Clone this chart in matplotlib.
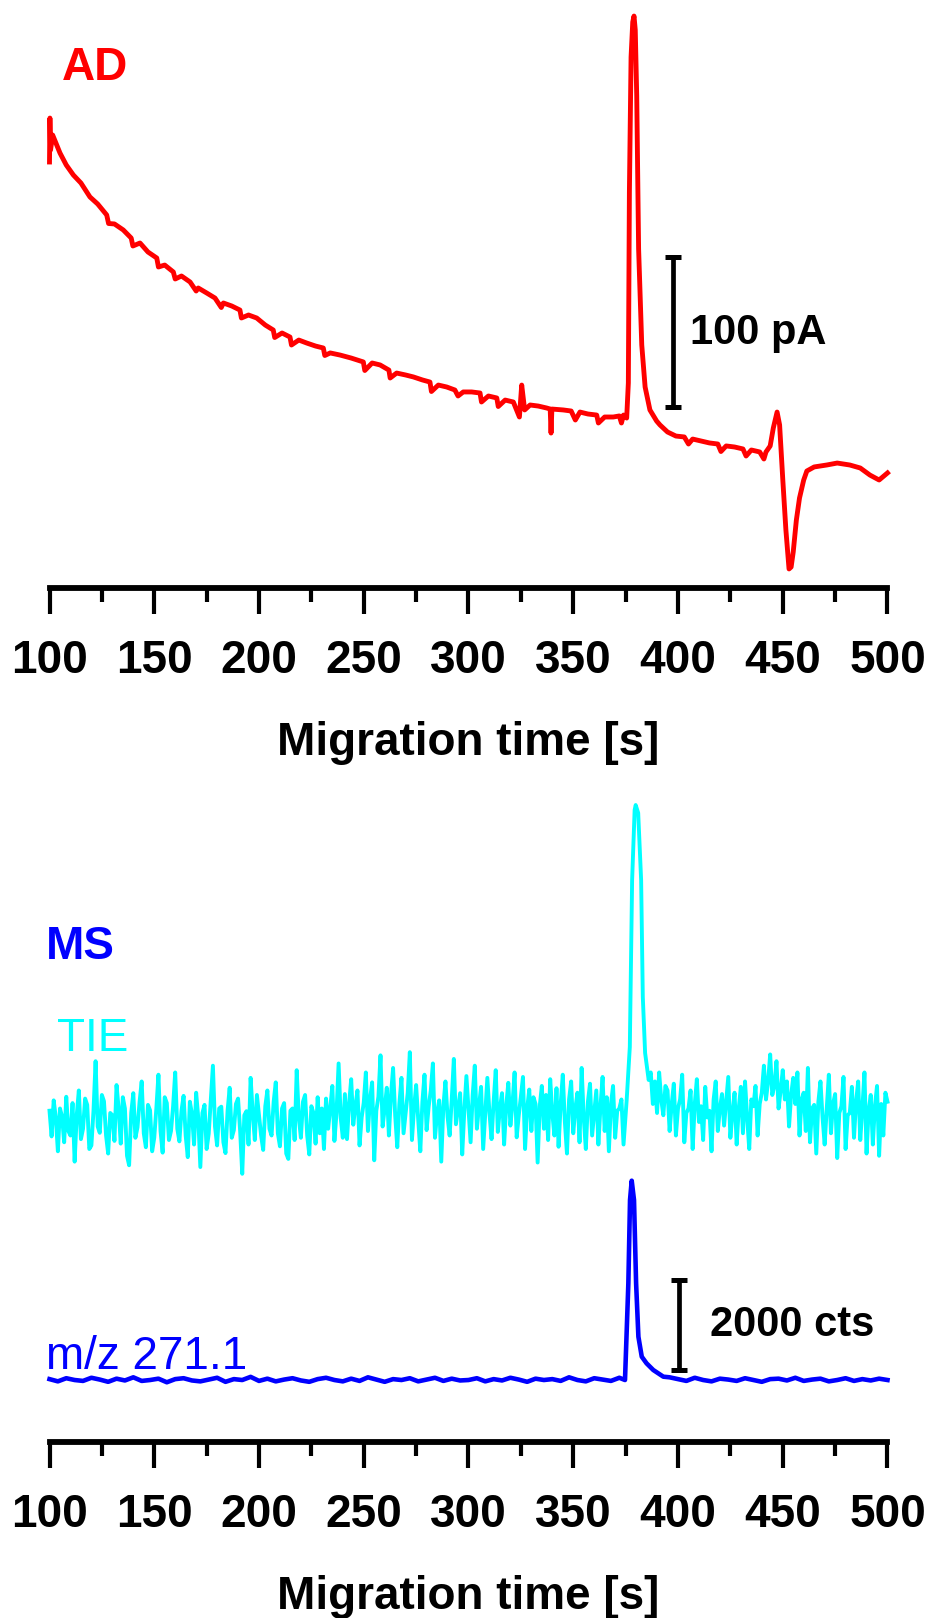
import numpy as np
import matplotlib
matplotlib.use("Agg")
import matplotlib.pyplot as plt
from matplotlib.ticker import MultipleLocator

plt.rcParams['font.family'] = ['Liberation Sans', 'DejaVu Sans']

# ---- AD trace (current, pA; 0 = axis line) ----
RED_T = [100.0, 100.2, 100.5, 101.5, 105, 108, 111.4, 115, 119.3, 123,
         127.3, 128.2, 131, 135.2, 139, 139.8, 143.2, 147, 151.2, 152,
         155, 159.1, 160, 163, 167.1, 170, 171, 175, 179, 182,
         183, 187, 190.9, 191.6, 195, 198.9, 203, 206.8, 207.5, 211,
         214.8, 215.5, 219, 222.8, 227, 230.7, 231.4, 234, 238.7, 244,
         249.8, 250.5, 254, 257.8, 262, 262.6, 265.7, 270, 273.7, 278,
         281.6, 282.3, 285.6, 289.6, 293.5, 295, 297.5, 301.5, 305.5, 306.2,
         309.5, 313.5, 314.2, 317.5, 321.4, 324.3, 325.4, 326.8, 329.4, 333.3,
         337.3, 339.0, 339.4, 339.8, 345.2, 349, 351, 353.2, 357, 361.2,
         362, 365, 369.1, 372, 373, 374, 375.5, 376.3, 376.8, 377.6,
         378.4, 379.0, 379.6, 380.3, 381.2, 382.7, 384.3, 386.6, 389.8, 391.4,
         395, 399, 403, 405, 407, 411, 415, 419, 420.5, 423,
         427, 431, 432.5, 435, 439, 441, 442, 444, 445.5, 447.3,
         448.5, 450, 451.5, 453, 454, 455, 456.5, 458, 460, 461.5,
         465, 471, 476, 482, 487, 491.6, 496, 500]
RED_PA = [284, 313.3, 292, 302, 290, 282, 275.3, 270, 260.7, 256,
          248.7, 243, 242.7, 238.7, 233.3, 228, 230, 224, 220, 214,
          215.3, 210.7, 206, 208, 204, 198, 200, 196.7, 193.3, 187,
          190, 188, 185.3, 180, 182, 180, 175.3, 172, 167, 170,
          167.3, 162, 165.3, 163.3, 161.3, 160, 155, 156.7, 155.3, 153.3,
          150.7, 145, 150, 148.7, 145.3, 140, 143.3, 142, 140.7, 138.7,
          137.3, 131, 135.3, 134, 132, 128, 130.7, 130.7, 130, 124,
          128, 126.7, 121, 125.3, 124, 114, 135.3, 118.7, 122, 121.3,
          120, 119.3, 103.3, 119.3, 118.7, 118, 112, 117.3, 116, 115.3,
          110, 114, 114, 114.7, 110, 115.3, 113.3, 136.7, 264, 354,
          377.3, 381.3, 372, 328, 226, 162, 134, 118.7, 111.3, 108.7,
          104, 101.3, 100.7, 96, 99.3, 98, 96.7, 96, 91, 94.7,
          94, 92.7, 88, 92, 90.7, 86, 90.7, 94.7, 106.7, 117.3,
          108.7, 72.7, 38.7, 12.7, 14, 24, 45.3, 60, 72, 78,
          80.7, 82, 83.3, 82, 80, 75.3, 72, 76.7]

# ---- MS traces (counts, relative to each trace level) ----
TIE_LEVEL = 7104
MZ_LEVEL = 1376
TIE_DT = 1.0
# t = 100 ... 374 s
TIE_PRE = [250, -320, 480, 100, -650, 300, 120, -450, 560, -200,
           -300, 420, -880, 150, 700, -380, -150, 520, 380, -600,
           -520, 250, 1350, -100, -240, 600, 460, -300, -700, 200,
           150, -420, 820, 300, -480, 550, 300, -750, -960, 200,
           640, -350, -120, 450, 900, -250, -560, 380, 260, -650,
           -350, 300, 1050, -200, -680, 550, 420, -400, -200, 350,
           1100, -150, -430, 250, 580, -300, -780, 450, 180, -500,
           650, 100, -1000, 200, 380, -600, -260, 500, 1250, -100,
           -520, 300, 340, -450, -690, 250, 760, -350, -180, 400,
           520, -200, -1150, 150, 240, -500, 980, 200, -400, 600,
           160, -300, -620, 350, 700, -150, -300, 450, 880, -250,
           -540, 300, 420, -700, -820, 250, 300, -400, 1150, 100,
           -350, 450, 600, -300, -720, 350, 200, -480, 550, -250,
           300, -600,
           520, -150, 300, 800, -420, 200, 1300, 90, -350, 620,
           -380, 400, 950, -60, 350, 700, -520, 100, 430, 1100,
           -200, 500, 880, -850, 250, 560, 1480, -100, 300, 760,
           -300, 600, 1200, 150, -560, 400, 980, -250, 200, 650,
           1550, -400, 300, 820, 50, -650, 450, 1050, -180, 350,
           700, 1300, -350, 200, 480, -880, 350, 900, 120, -300,
           500, 1400, -50, 300, 640, -720, 250, 1020, 300, -450,
           600, 1250, -150, 350, 780, -600, 200, 980, 200, -380,
           450, 1150, -220, 300, 640, -500, 350, 870, -80, 400,
           1100, -340, 150, 560, 1000, -600, 300, 720, -200, 550,
           400, -900, 350, 800, -150, 600, -400, 950, 200, -300,
           750, -550, 400, 1050, 0, -700, 500, 900, -250, 300,
           650, -450, 1200, 100, -600, 450, 850, -300, 200, 700,
           -500, 350, 1000, -200, 550, -650, 400, 800, -350, 250,
           300, 500, -500]
TIE_PEAK_T = [375.5, 377.0, 378.1, 379.3, 379.8, 381.0, 382.4, 383.2, 384.3, 386.0]
TIE_PEAK = [488, 1665, 5372, 6926, 7037, 6860, 5372, 2775, 1532, 932]
# t = 387 ... 500 s
TIE_POST = [1100, 400, 900, 200, 1100, 500, 150, 800, 700, -200,
            400, 850, -300, 300, 500, 1050, -450, 200, 300, 700,
            -600, 400, 950, 0, 350, -400, 780, 100, 250, -650,
            500, 900, -200, 300, 620, -80, 450, 1000, -350, 200,
            650, -500, 300, 780, -250, 900, 100, -600, 500, 350,
            800, -300, 400, 650, 1250, 500, 900, 1500, 600, 800,
            1350, 300, 700, 1150, 500, 900, -100, 600, 980, 400,
            1100, -300, 500, 650, -200, 1200, -450, 300, 380, -700,
            450, 900, 100, -500, 300, 1050, -250, 400, 620, -800,
            200, 350, 1000, -600, 150, 200, 780, -350, 450, 900,
            -400, 300, 1100, -700, 250, 600, -500, 350, 800, -750,
            400, -300, 650, 450]

MZ_DT = 4.0
MZ_PRE = [20, -30, 40, 0, -20, 50, 10, -40, 30, -10,
          60, -20, 0, 30, -50, 20, 40, -10, -30, 10,
          50, -40, 20, 0, 70, -20, 30, -30, 10, 40,
          -10, -40, 20, 50, 0, -30, 30, -20, 60, 10,
          -40, 20, 0, 40, -30, 10, 50, -20, 30, -10,
          0, 40, -30, 20, -10, 50, 10, -40, 30, 0,
          20, -20, 60, 0, -30, 40, 10, -20, 50]
MZ_PEAK_T = [374.7, 376.3, 377.1, 377.9, 379.0, 380.0, 381.1, 382.7, 385.0, 388.2, 393.0]
MZ_PEAK = [0, 2146, 3996, 4425, 3996, 2146, 960, 518, 370, 222, 74]
MZ_POST = [60, 20, -20, 50, 0, -30, 30, 10, -20, 40,
           0, -40, 20, 30, -10, 50, -20, 10, 30, -30,
           0, 40, -20, 20, -10, 30, 0]

TICKS = [100, 150, 200, 250, 300, 350, 400, 450, 500]

# sampled time axes
tie_t = np.concatenate([100 + TIE_DT * np.arange(len(TIE_PRE)), TIE_PEAK_T,
                        387 + TIE_DT * np.arange(len(TIE_POST))])
tie_y = TIE_LEVEL + np.array(TIE_PRE + TIE_PEAK + TIE_POST, dtype=float)
mz_t = np.concatenate([100 + MZ_DT * np.arange(len(MZ_PRE)), MZ_PEAK_T,
                       396 + MZ_DT * np.arange(len(MZ_POST))])
mz_y = MZ_LEVEL + np.array(MZ_PRE + MZ_PEAK + MZ_POST, dtype=float)

W, H = 929, 1618
fig = plt.figure(figsize=(W / 100, H / 100), dpi=100)
ax1 = fig.add_axes([49.5 / W, (H - 588) / H, 838 / W, 588 / H])
ax2 = fig.add_axes([49.5 / W, (H - 1442) / H, 838 / W, (1442 - 770) / H])

FS = 33


def style_axis(ax):
    for s in ("left", "right", "top"):
        ax.spines[s].set_visible(False)
    ax.spines["bottom"].set_linewidth(4.2)
    ax.set_xlim(100, 500)
    ax.set_yticks([])
    ax.xaxis.set_major_locator(MultipleLocator(50))
    ax.xaxis.set_minor_locator(MultipleLocator(25))
    ax.tick_params(axis="x", which="major", direction="out", length=19, width=3.0, pad=18)
    ax.tick_params(axis="x", which="minor", direction="out", length=10, width=3.0)
    ax.set_xticks(TICKS)
    ax.set_xticklabels([str(t) for t in TICKS], fontsize=FS, fontweight="bold")
    ax.set_xlabel("Migration time [s]", fontsize=FS, fontweight="bold", labelpad=27)
    ax.patch.set_alpha(0)


# AD panel
ax1.plot(RED_T, RED_PA, color="#FF0000", lw=3.5, solid_joinstyle="round", clip_on=False)
ax1.set_ylim(0, 392)
style_axis(ax1)
ax1.text(106, 347, "AD", color="#FF0000", fontsize=FS, fontweight="bold", va="center", ha="left")
ax1.errorbar([397.6], [170.7], yerr=[50], fmt="none", ecolor="black", elinewidth=3.4,
             capsize=6, capthick=3.6)
ax1.text(405.7, 170, "100 pA", fontsize=30, fontweight="bold", va="center", ha="left")

# MS panel
ax2.plot(tie_t, tie_y, color="#00FFFF", lw=2.8, clip_on=False)
ax2.plot(mz_t, mz_y, color="#0000FF", lw=3.3, clip_on=False)
ax2.set_ylim(0, 672 * 22.2)
style_axis(ax2)
ax2.text(98.3, 10989, "MS", color="#0000FF", fontsize=FS, fontweight="bold", va="center", ha="left")
ax2.text(103.6, 8947, "TIE", color="#00FFFF", fontsize=FS, va="center", ha="left")
ax2.text(98.3, 1887, "m/z 271.1", color="#0000FF", fontsize=FS, va="center", ha="left")
ax2.errorbar([400.5], [2597], yerr=[1000], fmt="none", ecolor="black", elinewidth=3.4,
             capsize=6, capthick=3.6)
ax2.text(415.3, 2597, "2000 cts", fontsize=30, fontweight="bold", va="center", ha="left")

fig.savefig("out.png", dpi=100)
